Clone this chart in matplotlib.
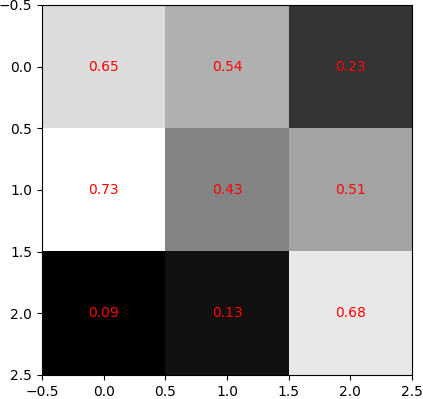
import numpy as np
import matplotlib
matplotlib.use("Agg")
import matplotlib.pyplot as plt

# cell values estimated from the chart (labels show 2 decimals, shade hints at the 3rd)
row0 = [0.646, 0.536, 0.226]
row1 = [0.734, 0.426, 0.506]
row2 = [0.094, 0.134, 0.676]

data = np.array([row0, row1, row2])

fig = plt.figure(figsize=(4.23, 3.99), dpi=100)
ax = fig.add_axes([0.0993, 0.0602, 0.8747, 0.9273])

ax.imshow(data, cmap='gray')

# label each cell with its value
for i in range(data.shape[0]):
    for j in range(data.shape[1]):
        ax.text(j, i, '{:.2f}'.format(data[i, j]), ha='center', va='center', color='red')

fig.savefig('out.png', dpi=100)
